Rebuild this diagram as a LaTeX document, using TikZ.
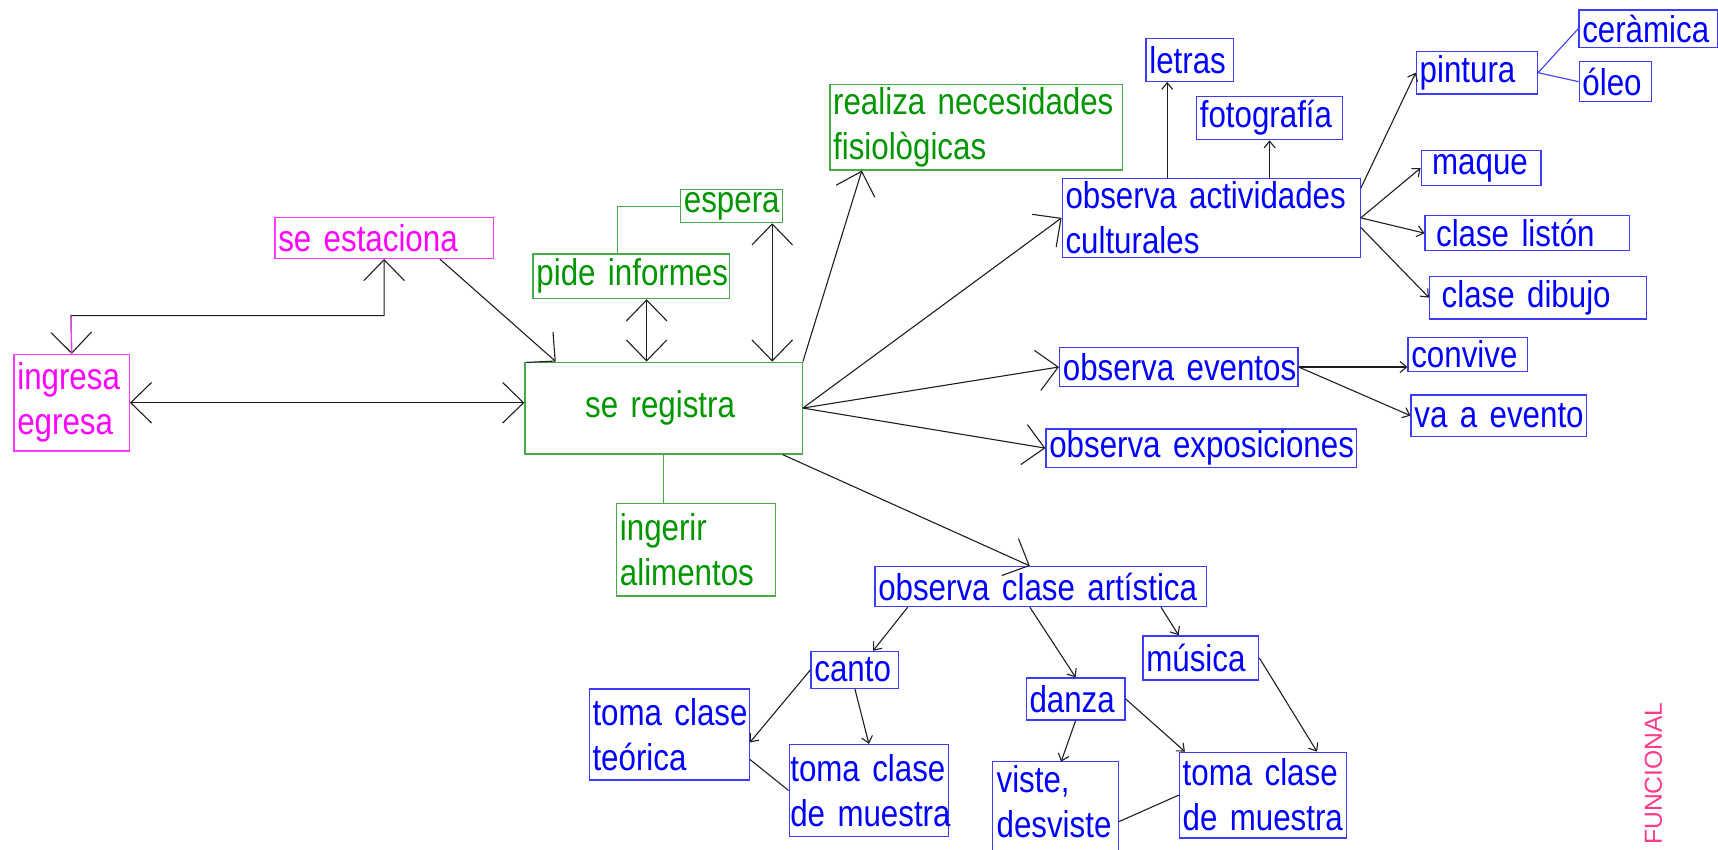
\documentclass[tikz,border=0pt]{standalone}
\usepackage{fontspec}
\setmainfont{Liberation Sans}[FakeStretch=0.84,WordSpace=0.74]
\newfontfamily\funcfont{Liberation Sans}
\usetikzlibrary{arrows.meta,calc}
\definecolor{magt}{RGB}{255,0,255}
\definecolor{magb}{RGB}{255,60,255}
\definecolor{grt}{RGB}{0,150,0}
\definecolor{grb}{RGB}{70,170,70}
\definecolor{blt}{RGB}{0,0,255}
\definecolor{blb}{RGB}{60,60,255}
\definecolor{funcpink}{RGB}{255,60,140}
\definecolor{lnc}{RGB}{30,30,30}
\begin{document}
\hyphenpenalty=10000
\exhyphenpenalty=10000
\begin{tikzpicture}[x=0.5pt,y=-0.5pt,
  nbox/.style={anchor=north west, inner xsep=1.5pt, inner ysep=0pt, align=left, line width=0.6pt,
    font=\fontsize{17pt}{20.5pt}\selectfont},
  magbox/.style={nbox, draw=magb, text=magt},
  grbox/.style={nbox, draw=grb, text=grt},
  blbox/.style={nbox, draw=blb, text=blt},
  conn/.style={draw=lnc, line width=0.5pt},
  big/.style={conn, -{Straight Barb[length=9.5pt,width=18.5pt]}},
  bigboth/.style={conn, {Straight Barb[length=9.5pt,width=18.5pt]}-{Straight Barb[length=9.5pt,width=18.5pt]}},
  small/.style={conn, -{Straight Barb[length=3pt,width=5pt]}},
  plainln/.style={line width=0.5pt}
  ]
\fill[white] (0,0) rectangle (1568,775);
\useasboundingbox (0,0) rectangle (1568,775);

% ---- magenta
\node[magbox, text width=49.6pt, minimum height=44pt] (ie) at (12.2,323) {ingresa\\egresa};
\node[magbox, text width=96.55pt, minimum height=18.7pt] (est) at (250.4,197.8) {se~estaciona};

% ---- green
\node[grbox, align=left, text width=123.55pt, minimum height=41.85pt] (reg) at (478.5,330) {\hspace*{26pt}se~registra};
\node[grbox, text width=86.5pt, minimum height=20.4pt] (pide) at (486,231.2) {pide~informes};
\node[grbox, text width=43.55pt, minimum height=15.05pt] (esp) at (620.6,172.5) {espera};
\node[grbox, text width=130.6pt, minimum height=38.9pt] (rea) at (756.8,76.7) {realiza~necesidades\\fisiològicas};
\node[grbox, text width=69.4pt, minimum height=42.3pt] (ing) at (562.2,458.8) {ingerir\\alimentos};

% ---- blue
\node[blbox, text width=132.95pt, minimum height=36.05pt] (oac) at (968.9,162.2) {observa~actividades\\culturales};
\node[blbox, text width=36.8pt, minimum height=19.6pt] (le) at (1045.4,34.4) {letras};
\node[blbox, text width=63.65pt, minimum height=19.8pt] (fo) at (1091.5,87.3) {fotografía};
\node[blbox, text width=52.25pt, minimum height=19.45pt] (pin) at (1292.1,46.3) {pintura};
\node[blbox, text width=60.25pt, minimum height=17.05pt] (cer) at (1440.5,8.5) {ceràmica};
\node[blbox, text width=29.85pt, minimum height=18.25pt] (ol) at (1440.7,55.7) {óleo};
\node[blbox, text width=51.65pt, minimum height=15.95pt] (maq) at (1296.5,136.9) {\hspace*{3.5pt}maque};
\node[blbox, text width=90.35pt, minimum height=16pt] (li) at (1300.1,196.2) {\hspace*{3.5pt}clase~listón};
\node[blbox, text width=95.85pt, minimum height=19.45pt] (di) at (1304.2,251.6) {\hspace*{4pt}clase~dibujo};
\node[blbox, text width=105.75pt, minimum height=17.95pt] (ev) at (966.5,316.4) {observa~eventos};
\node[blbox, text width=51.45pt, minimum height=15.5pt] (cv) at (1284.5,307.3) {convive};
\node[blbox, text width=76.9pt, minimum height=18.85pt] (va) at (1287.3,359.9) {va~a~evento};
\node[blbox, text width=138.75pt, minimum height=17.5pt] (ex) at (954.1,390.9) {observa~exposiciones};
\node[blbox, text width=148.35pt, minimum height=18.25pt] (oca) at (798,516.5) {observa~clase~artística};
\node[blbox, text width=36.95pt, minimum height=16.85pt] (ca) at (739.7,593.9) {canto};
\node[blbox, text width=70pt, minimum height=41.55pt] (teo) at (537.2,628.2) {toma~clase\\teórica};
\node[blbox, inner xsep=0.5pt, text width=71.75pt, minimum height=41.85pt] (mu1) at (719.7,679) {toma~clase\\de~muestra};
\node[blbox, text width=42.1pt, minimum height=19.15pt] (da) at (936,618.2) {danza};
\node[blbox, text width=49.8pt, minimum height=20.1pt] (mus) at (1042.6,579.8) {música};
\node[blbox, draw=none, text width=53.9pt, minimum height=35.8pt] (vi) at (906,695.2) {viste,\\desviste};
\draw[blb, line width=0.6pt] ($(vi.south west)+(0,30)$) -- (vi.north west) -- (vi.north east) -- ($(vi.south east)+(0,30)$);
\node[blbox, text width=73.35pt, minimum height=39.1pt] (mu2) at (1075.8,686) {toma~clase\\de~muestra};

\node[rotate=90, text=funcpink, font=\funcfont\fontsize{11.25pt}{13pt}\selectfont, inner sep=0pt] (fun) at (1509,706) {FUNCIONAL};

% ---- connectors around "se registra"
\draw[bigboth] (ie.east) -- (ie.east -| reg.west);
\coordinate (t1) at (64.8,288);
\draw[bigboth] (ie.north) -- (t1) -- (t1 -| est.south) -- (est.south);
\draw[magb, plainln] (ie.north) -- (t1);
\draw[big] ($(est.south west)!0.754!(est.south east)$) -- ($(reg.north west)!0.113!(reg.north east)$);
\coordinate (p1) at ($(pide.south west)!0.578!(pide.south east)$);
\draw[bigboth] (p1) -- (p1 |- reg.north);
\coordinate (e1) at ($(esp.south west)!0.893!(esp.south east)$);
\draw[bigboth] (e1) -- (e1 |- reg.north);
\draw[grb, plainln] ($(pide.north west)!0.43!(pide.north east)$) |- (esp.west);
\draw[big] (reg.north east) -- ($(rea.south west)!0.111!(rea.south east)$);
\draw[big] (reg.east) -- (oac.west);
\draw[big] (reg.east) -- (ev.west);
\draw[big] (reg.east) -- (ex.west);
\draw[big] ($(reg.south west)!0.927!(reg.south east)$) -- ($(oca.north west)!0.467!(oca.north east)$);
\draw[grb, plainln] (reg.south) -- (reg.south |- ing.north);

% ---- actividades culturales
\coordinate (l1) at ($(le.south west)!0.246!(le.south east)$);
\draw[small] (l1 |- oac.north) -- (l1);
\draw[small] (fo.south |- oac.north) -- (fo.south);
\draw[small] ($(oac.north east)!0.13!(oac.south east)$) -- (pin.west);
\draw[small] (oac.east) -- (maq.west);
\draw[small] (oac.east) -- (li.west);
\draw[small] ($(oac.north east)!0.62!(oac.south east)$) -- (di.west);
\draw[blb, plainln] (pin.east) -- (cer.west);
\draw[blb, plainln] (pin.east) -- (ol.west);

% ---- eventos
\draw[small] (ev.east) -- (ev.east -| cv.west);
\draw[small] (ev.east) -- (va.west);

% ---- clase artistica
\draw[small] ($(oca.south west)!0.1!(oca.south east)$) -- ($(ca.north west)!0.706!(ca.north east)$);
\draw[small] ($(oca.south west)!0.467!(oca.south east)$) -- (da.north);
\draw[small] ($(oca.south west)!0.861!(oca.south east)$) -- ($(mus.north west)!0.31!(mus.north east)$);
\draw[small] (ca.south) -- (mu1.north);
\draw[small] (ca.west) -- ($(teo.north east)!0.586!(teo.south east)$);
\draw[conn] ($(teo.north east)!0.77!(teo.south east)$) -- (mu1.west);
\draw[small] (da.south) -- ($(vi.north west)!0.543!(vi.north east)$);
\draw[small] (da.east) -- ($(mu2.north west)!0.037!(mu2.north east)$);
\draw[small] (mus.east) -- ($(mu2.north west)!0.82!(mu2.north east)$);
\draw[conn] ($(vi.north east)+(0,54.8)$) -- (mu2.west);
\end{tikzpicture}
\end{document}
